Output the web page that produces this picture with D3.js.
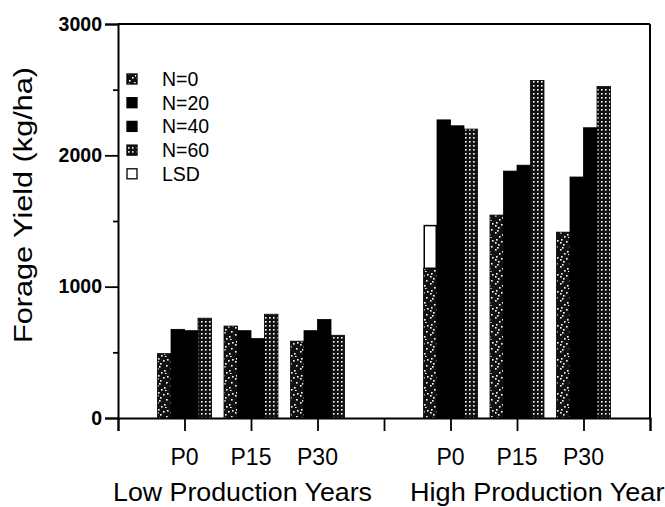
<!DOCTYPE html>
<html>
<head>
<meta charset="utf-8">
<script src="https://cdn.jsdelivr.net/npm/d3@7"></script>
<style>
  body { margin: 0; background: #fff; }
  svg text { font-family: "Liberation Sans", Arial, sans-serif; fill: #000; }
</style>
</head>
<body>
<svg class="chart" width="665" height="507"></svg>
<script>
// slots along the x axis (0..8), groups sit on the inner ticks
var slots = [1, 2, 3, 5, 6, 7];
var periods = ["P0", "P15", "P30", "P0", "P15", "P30"];
var groupLabels = ["Low Production Years", "High Production Years"];
var series = ["N=0", "N=20", "N=40", "N=60"];

var n0  = [490, 700, 585, 1140, 1545, 1415];
var n20 = [675, 665, 665, 2270, 1880, 1835];
var n40 = [665, 605, 750, 2225, 1925, 2210];
var n60 = [760, 790, 630, 2200, 2570, 2525];
// LSD bar sits on top of the N=0 bar of high-year P0
var lsd = [0, 0, 0, 325, 0, 0];

var yTicks = [0, 1000, 2000, 3000];
var yMinor = [500, 1500, 2500];

var svg = d3.select(".chart");

var x = d3.scaleLinear().domain([0, 8]).range([118, 650]);
var y = d3.scaleLinear().domain([0, 3000]).range([418, 24]);
var inner = d3.scaleBand().domain(series).range([-27, 27]);

// fill patterns
var defs = svg.append("defs");

var p0 = defs.append("pattern")
  .attr("id", "pat0")
  .attr("patternUnits", "userSpaceOnUse")
  .attr("width", 13).attr("height", 17);
p0.append("rect").attr("width", 13).attr("height", 17).attr("fill", "#111");
[[2,1],[7,3],[10,8],[4,6],[1,11],[8,13],[5,15],[11,2],[3,9],[9,16],[1,4]].forEach(function(d){
  p0.append("rect").attr("x", d[0]).attr("y", d[1])
    .attr("width", 1.6).attr("height", 1.6).attr("fill", "#fff");
});

var p60 = defs.append("pattern")
  .attr("id", "pat60")
  .attr("patternUnits", "userSpaceOnUse")
  .attr("width", 4).attr("height", 4);
p60.append("rect").attr("width", 4).attr("height", 4).attr("fill", "#111");
p60.append("rect").attr("x", 1).attr("y", 1).attr("width", 1.6).attr("height", 1.6).attr("fill", "#fff");

var fills = ["url(#pat0)", "#000", "#000", "url(#pat60)"];
var values = [n0, n20, n40, n60];

// bars
series.forEach(function(s, si){
  svg.append("g").selectAll("rect")
    .data(values[si])
    .enter().append("rect")
      .attr("x", function(d, i){ return x(slots[i]) + inner(s); })
      .attr("y", function(d){ return y(d); })
      .attr("width", inner.bandwidth())
      .attr("height", function(d){ return y(0) - y(d); })
      .attr("fill", fills[si])
      .attr("stroke", "#000")
      .attr("stroke-width", 0.8);
});

// LSD bar stacked on N=0
svg.append("g").selectAll("rect")
  .data(lsd.map(function(d, i){ return {v: d, i: i}; }).filter(function(d){ return d.v > 0; }))
  .enter().append("rect")
    .attr("x", function(d){ return x(slots[d.i]) + inner("N=0") + 0.75; })
    .attr("y", function(d){ return y(n0[d.i] + d.v); })
    .attr("width", inner.bandwidth() - 1.5)
    .attr("height", function(d){ return y(n0[d.i]) - y(n0[d.i] + d.v); })
    .attr("fill", "#fff")
    .attr("stroke", "#000")
    .attr("stroke-width", 1.5);

// frame
svg.append("line").attr("x1", x(0)).attr("x2", x(8)).attr("y1", y(3000)).attr("y2", y(3000))
  .attr("stroke", "#000").attr("stroke-width", 2);
svg.append("line").attr("x1", x(8)).attr("x2", x(8)).attr("y1", y(3000)).attr("y2", y(0))
  .attr("stroke", "#000").attr("stroke-width", 2);

// y axis
var yAxis = svg.append("g").attr("transform", "translate(" + x(0) + ",0)")
  .call(d3.axisLeft(y).tickValues(yTicks).tickSize(13).tickPadding(3).tickFormat(d3.format("d")));
svg.append("g").attr("transform", "translate(" + x(0) + ",0)")
  .call(d3.axisLeft(y).tickValues(yMinor).tickSize(5).tickFormat(""))
  .select(".domain").remove();

// x axis
var xAxis = svg.append("g").attr("transform", "translate(0," + y(0) + ")")
  .call(d3.axisBottom(x).ticks(8).tickSize(13).tickFormat(""));

svg.selectAll(".domain").attr("stroke", "#000").attr("stroke-width", 2);
svg.selectAll(".tick line").attr("stroke", "#000").attr("stroke-width", 1.8);
yAxis.selectAll(".tick text")
  .style("font-size", "19.5px")
  .style("font-weight", "bold")
  .attr("font-family", null);

// period labels
svg.append("g").selectAll("text")
  .data(periods)
  .enter().append("text")
    .attr("x", function(d, i){ return x(slots[i]); })
    .attr("y", 465)
    .attr("text-anchor", "middle")
    .style("font-size", "23px")
    .text(function(d){ return d; });

// group labels
svg.append("g").selectAll("text")
  .data(groupLabels)
  .enter().append("text")
    .attr("x", function(d, i){ return i === 0 ? 113 : 410; })
    .attr("y", 501)
    .attr("textLength", function(d, i){ return i === 0 ? 259 : 268; })
    .attr("lengthAdjust", "spacingAndGlyphs")
    .style("font-size", "25px")
    .text(function(d){ return d; });

// y title
svg.append("text")
  .attr("transform", "translate(32,343) rotate(-90)")
  .attr("textLength", 276)
  .attr("lengthAdjust", "spacingAndGlyphs")
  .style("font-size", "25.5px")
  .text("Forage Yield (kg/ha)");

// legend
var legendItems = series.concat(["LSD"]);
var legendFills = fills.concat(["#fff"]);
var legend = svg.append("g").selectAll("g")
  .data(legendItems)
  .enter().append("g")
    .attr("transform", function(d, i){ return "translate(127," + (79 + i * 23.7) + ")"; });
legend.append("rect")
  .attr("x", 0).attr("y", -5)
  .attr("width", 10).attr("height", 10)
  .attr("fill", function(d, i){ return legendFills[i]; })
  .attr("stroke", "#000")
  .attr("stroke-width", 1.3);
legend.append("text")
  .attr("x", 35).attr("y", 7)
  .style("font-size", "19.5px")
  .text(function(d){ return d; });
</script>
</body>
</html>
